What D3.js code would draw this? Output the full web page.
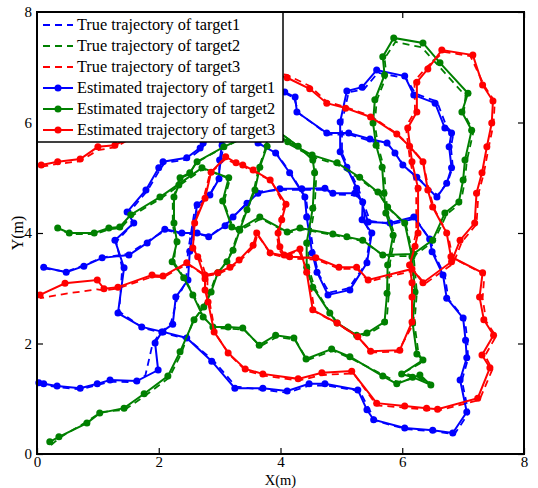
<!DOCTYPE html>
<html><head><meta charset="utf-8">
<script src="https://cdn.jsdelivr.net/npm/d3@7"></script>
<style>body{margin:0;background:#fff}svg{display:block}</style>
</head><body><svg id="c" width="538" height="488"></svg>
<script>
const xTicks=[0,2,4,6,8], yTicks=[0,2,4,6,8];
const legendLabels=["True trajectory of target1","True trajectory of target2","True trajectory of target3","Estimated trajectory of target1","Estimated trajectory of target2","Estimated trajectory of target3"];
const colors=["#0000ff","#008000","#ff0000"];

const est1=[[0.11,3.38],[0.48,3.29],[0.77,3.40],[1.07,3.55],[1.51,3.60],[1.81,3.82],[2.10,4.07],[2.38,4.00],[2.63,4.00],[2.82,3.93],[3.09,4.13],[3.22,4.29],[3.45,4.54],[3.63,4.72],[3.99,4.80],[4.35,4.80],[4.73,4.81],[4.86,4.72],[5.22,4.72],[5.35,4.56],[5.34,4.24],[5.50,4.00],[5.42,3.46],[5.14,2.97],[4.78,2.88],[4.60,3.29],[4.52,3.64],[4.43,4.29],[4.40,4.65],[4.15,5.09],[3.92,5.45],[3.63,5.63],[3.50,6.05],[3.83,6.50],[4.07,6.55],[4.24,6.46],[4.27,6.19],[4.76,5.81],[5.12,5.81],[5.47,5.70],[5.75,5.63],[5.88,5.45],[6.01,5.23],[6.24,5.01],[6.57,4.65],[6.73,4.90],[6.81,5.18],[6.77,5.56],[6.81,5.81],[6.70,5.90],[6.54,6.35],[6.19,6.50],[6.04,6.84],[5.58,6.95],[5.34,6.64],[5.09,6.57],[4.98,6.01],[4.98,5.47],[5.09,5.19],[5.25,4.81],[5.44,4.20],[5.80,4.18],[6.19,4.29],[6.45,3.89],[6.49,3.66],[6.67,3.24],[6.73,2.82],[7.00,2.46],[7.04,2.06],[7.06,1.74],[6.95,1.34],[7.06,0.76],[6.83,0.38],[6.50,0.43],[6.04,0.47],[5.53,0.62],[5.42,0.80],[5.27,1.16],[4.73,1.27],[4.47,1.27],[4.11,1.14],[3.71,1.19],[3.25,1.19],[2.87,1.68],[2.46,2.10],[2.07,2.21],[1.72,2.30],[1.33,2.55],[1.43,3.37],[1.28,3.87],[1.59,4.18],[1.48,4.38],[1.79,4.78],[2.00,5.18],[2.07,5.29],[2.46,5.36],[2.68,5.54],[2.73,5.63],[2.87,5.90],[3.04,5.59],[3.00,5.32],[2.99,4.98],[2.84,4.69],[2.63,4.51],[2.51,3.67],[2.48,3.15],[2.28,2.84],[2.23,2.35],[2.05,2.21],[1.94,2.01],[1.99,1.52],[1.64,1.32],[1.20,1.34],[0.99,1.27],[0.71,1.19],[0.33,1.23],[0.11,1.27],[0.03,1.29]];
const est2=[[0.21,0.22],[0.36,0.31],[0.82,0.56],[1.03,0.74],[1.43,0.83],[1.76,1.09],[2.15,1.41],[2.35,1.85],[2.58,2.43],[2.74,2.66],[2.86,2.93],[2.97,3.28],[3.12,3.48],[3.22,3.69],[3.33,4.05],[3.45,4.42],[3.58,4.78],[3.66,5.19],[3.78,5.57],[3.74,5.95],[4.12,5.65],[4.52,5.41],[4.93,5.27],[5.30,5.01],[5.60,4.74],[5.76,4.47],[6.04,4.18],[6.16,3.57],[6.21,2.93],[6.17,2.37],[6.24,1.81],[6.34,1.70],[5.99,1.45],[6.17,1.39],[6.47,1.25],[6.29,1.43],[5.91,1.27],[5.68,1.41],[5.14,1.76],[4.84,1.90],[4.42,1.72],[4.22,2.10],[3.92,2.15],[3.65,1.97],[3.38,2.28],[3.14,2.30],[2.89,2.30],[2.73,2.48],[2.56,2.88],[2.41,3.19],[2.22,3.48],[2.30,3.84],[2.25,4.18],[2.25,4.65],[2.33,4.87],[2.35,5.00],[2.51,5.09],[2.63,5.29],[3.07,5.56],[3.82,5.95],[4.29,5.57],[4.53,5.32],[4.56,5.09],[4.53,4.45],[4.43,3.82],[4.43,3.38],[4.53,3.02],[4.81,2.55],[4.93,2.37],[5.25,2.15],[5.42,2.19],[5.71,2.39],[5.75,2.91],[5.76,3.42],[5.85,3.96],[5.73,4.36],[5.70,4.72],[5.67,5.19],[5.57,5.59],[5.52,5.99],[5.55,6.41],[5.71,6.86],[5.68,7.19],[5.86,7.53],[6.34,7.44],[6.62,7.08],[7.08,6.53],[6.98,6.19],[7.14,5.86],[7.03,5.32],[7.00,4.96],[6.93,4.56],[6.70,4.36],[6.50,3.87],[6.18,3.62],[5.68,3.60],[5.35,3.87],[5.09,3.93],[4.86,3.98],[4.32,4.09],[4.11,4.02],[3.66,4.29],[3.32,4.07],[3.20,4.11],[3.05,4.58],[3.15,5.00],[2.71,5.18],[2.02,4.65],[1.54,4.33],[1.36,4.11],[1.18,4.09],[0.94,4.00],[0.53,4.00],[0.34,4.09]];
const est3=[[0.07,5.23],[0.34,5.29],[0.71,5.34],[1.00,5.56],[1.28,5.59],[2.68,6.41],[3.83,6.91],[4.11,6.81],[4.48,6.61],[4.76,6.35],[5.07,6.26],[5.48,6.10],[5.91,5.79],[6.12,5.57],[6.34,5.29],[6.42,4.78],[6.50,4.47],[6.73,4.00],[6.80,3.57],[7.32,3.28],[7.27,2.84],[7.34,2.43],[7.50,2.15],[7.31,1.79],[7.44,1.56],[7.24,1.01],[6.58,0.81],[6.40,0.83],[6.04,0.87],[5.58,0.92],[5.17,1.50],[4.68,1.47],[4.29,1.36],[3.71,1.45],[3.42,1.54],[3.14,1.83],[2.91,2.21],[2.81,2.75],[2.76,2.97],[2.76,3.17],[2.64,3.57],[2.56,3.73],[2.59,4.18],[2.76,4.63],[2.86,5.10],[3.10,5.38],[3.27,5.27],[3.38,5.23],[3.55,5.14],[3.83,4.96],[4.09,4.52],[4.02,4.24],[3.96,4.00],[3.99,3.75],[4.06,3.60],[4.32,3.71],[4.43,3.29],[4.53,2.61],[4.93,2.37],[5.27,2.12],[5.48,1.86],[5.96,1.88],[6.16,2.39],[6.16,2.84],[6.16,3.10],[6.12,3.42],[6.21,3.76],[6.26,4.00],[6.26,4.81],[6.16,5.29],[6.09,5.90],[6.24,6.19],[6.24,6.73],[6.42,6.97],[6.65,7.31],[7.16,7.22],[7.32,6.68],[7.49,6.39],[7.47,5.99],[7.39,5.56],[7.31,5.09],[7.22,4.72],[7.19,4.18],[6.95,3.87],[6.81,3.48],[6.34,3.10],[6.16,3.35],[5.44,3.15],[5.25,3.38],[4.96,3.38],[4.58,3.55],[4.15,3.57],[3.83,3.64],[3.61,4.00],[3.55,3.78],[3.32,3.51],[3.17,3.38],[2.97,3.28],[2.76,3.24],[2.46,3.46],[2.07,3.22],[1.89,3.24],[1.33,3.02],[1.10,2.99],[0.99,3.15],[0.46,3.09],[0.05,2.88]];

const true1=[[0.11,3.36],[0.48,3.30],[0.78,3.42],[1.08,3.56],[1.50,3.62],[1.83,3.86],[2.12,4.05],[2.40,3.98],[2.65,3.98],[2.84,3.95],[3.10,4.16],[3.24,4.32],[3.47,4.56],[3.65,4.75],[4.00,4.78],[4.36,4.78],[4.74,4.78],[4.88,4.70],[5.24,4.68],[5.37,4.52],[5.38,4.22],[5.48,3.97],[5.40,3.44],[5.12,3.00],[4.80,2.92],[4.62,3.27],[4.55,3.62],[4.46,4.27],[4.42,4.63],[4.18,5.06],[3.95,5.42],[3.66,5.62],[3.50,6.05],[3.83,6.50],[4.07,6.53],[4.22,6.45],[4.30,6.17],[4.78,5.78],[5.14,5.78],[5.49,5.66],[5.77,5.60],[5.90,5.42],[6.04,5.20],[6.27,4.98],[6.58,4.68],[6.75,4.93],[6.83,5.20],[6.80,5.55],[6.84,5.80],[6.73,5.92],[6.57,6.38],[6.22,6.52],[6.06,6.80],[5.60,6.90],[5.37,6.60],[5.12,6.55],[5.01,6.00],[5.01,5.45],[5.12,5.17],[5.28,4.80],[5.47,4.22],[5.82,4.16],[6.22,4.26],[6.47,3.86],[6.52,3.64],[6.70,3.22],[6.76,2.80],[7.03,2.44],[7.07,2.04],[7.08,1.72],[6.98,1.33],[7.09,0.74],[6.86,0.36],[6.52,0.41],[6.06,0.45],[5.56,0.60],[5.45,0.82],[5.30,1.14],[4.75,1.24],[4.48,1.24],[4.12,1.11],[3.72,1.16],[3.27,1.22],[2.89,1.70],[2.48,2.08],[2.08,2.19],[1.74,2.28],[1.35,2.58],[1.40,3.37],[1.30,3.84],[1.57,4.16],[1.50,4.36],[1.81,4.76],[2.02,5.15],[2.10,5.27],[2.48,5.33],[2.70,5.52],[2.75,5.60],[2.87,5.90],[3.06,5.56],[3.02,5.30],[2.97,4.96],[2.82,4.66],[2.60,4.48],[2.48,3.66],[2.45,3.13],[2.30,2.80],[2.20,2.37],[2.02,2.18],[1.90,2.00],[1.78,1.42],[1.62,1.30],[1.21,1.31],[1.00,1.25],[0.72,1.17],[0.34,1.21],[0.12,1.25],[0.03,1.27]];
const true2=[[0.23,0.16],[0.38,0.30],[0.84,0.60],[1.05,0.76],[1.44,0.80],[1.77,1.05],[2.17,1.38],[2.37,1.82],[2.56,2.40],[2.72,2.64],[2.84,2.92],[2.95,3.26],[3.10,3.46],[3.20,3.67],[3.31,4.03],[3.43,4.40],[3.56,4.76],[3.64,5.17],[3.76,5.55],[3.74,5.95],[4.12,5.62],[4.52,5.38],[4.93,5.24],[5.30,4.98],[5.62,4.71],[5.78,4.44],[6.06,4.15],[6.19,3.55],[6.24,2.92],[6.20,2.36],[6.27,1.80],[6.36,1.68],[6.02,1.47],[6.19,1.41],[6.49,1.27],[6.30,1.40],[5.92,1.30],[5.69,1.43],[5.16,1.73],[4.86,1.87],[4.44,1.70],[4.24,2.07],[3.94,2.12],[3.67,1.95],[3.40,2.25],[3.16,2.27],[2.91,2.28],[2.75,2.46],[2.58,2.86],[2.43,3.17],[2.25,3.47],[2.28,3.82],[2.23,4.16],[2.23,4.62],[2.31,4.85],[2.33,4.98],[2.50,5.06],[2.61,5.27],[3.05,5.54],[3.82,5.95],[4.29,5.57],[4.55,5.31],[4.59,5.08],[4.56,4.44],[4.46,3.81],[4.46,3.38],[4.56,3.01],[4.83,2.53],[4.95,2.35],[5.27,2.13],[5.44,2.17],[5.74,2.37],[5.78,2.90],[5.79,3.41],[5.88,3.95],[5.76,4.35],[5.73,4.71],[5.70,5.18],[5.60,5.58],[5.55,5.98],[5.58,6.40],[5.74,6.84],[5.71,7.16],[5.89,7.46],[6.32,7.36],[6.60,7.02],[7.04,6.48],[7.01,6.17],[7.17,5.84],[7.06,5.30],[7.03,4.95],[6.96,4.54],[6.73,4.34],[6.52,3.85],[6.18,3.58],[5.70,3.58],[5.37,3.85],[5.11,3.91],[4.88,3.96],[4.34,4.07],[4.12,4.00],[3.68,4.26],[3.34,4.05],[3.22,4.09],[3.07,4.56],[3.17,4.98],[2.73,5.16],[2.04,4.63],[1.56,4.31],[1.38,4.09],[1.20,4.07],[0.96,3.98],[0.55,3.98],[0.36,4.07]];
const true3=[[0.07,5.20],[0.34,5.25],[0.71,5.30],[1.00,5.50],[1.28,5.55],[2.68,6.41],[3.83,6.91],[4.11,6.86],[4.48,6.66],[4.76,6.38],[5.07,6.28],[5.48,6.12],[5.91,5.80],[6.12,5.58],[6.34,5.30],[6.44,4.76],[6.52,4.45],[6.75,3.97],[6.83,3.55],[7.35,3.25],[7.32,2.82],[7.38,2.40],[7.54,2.13],[7.36,1.78],[7.48,1.53],[7.27,0.98],[6.58,0.78],[6.40,0.80],[6.04,0.84],[5.58,0.88],[5.20,1.46],[4.68,1.43],[4.30,1.33],[3.72,1.42],[3.43,1.51],[3.16,1.80],[2.93,2.18],[2.84,2.72],[2.80,2.95],[2.80,3.15],[2.68,3.55],[2.58,3.70],[2.56,4.16],[2.73,4.60],[2.84,5.08],[3.10,5.34],[3.28,5.24],[3.40,5.20],[3.57,5.11],[3.85,4.94],[4.06,4.50],[3.99,4.22],[3.94,3.98],[3.97,3.73],[4.04,3.58],[4.30,3.68],[4.46,3.28],[4.56,2.58],[4.95,2.35],[5.29,2.10],[5.50,1.84],[5.93,1.85],[6.19,2.37],[6.19,2.83],[6.19,3.10],[6.15,3.42],[6.18,3.78],[6.23,4.02],[6.23,4.82],[6.13,5.30],[6.06,5.92],[6.21,6.20],[6.20,6.75],[6.40,7.00],[6.68,7.28],[7.12,7.20],[7.35,6.66],[7.52,6.38],[7.50,5.98],[7.42,5.55],[7.34,5.08],[7.25,4.70],[7.22,4.16],[6.98,3.84],[6.84,3.45],[6.37,3.08],[6.19,3.32],[5.45,3.12],[5.26,3.35],[4.97,3.35],[4.59,3.52],[4.15,3.54],[3.84,3.62],[3.62,3.97],[3.57,3.76],[3.33,3.49],[3.18,3.36],[2.98,3.26],[2.77,3.22],[2.47,3.44],[2.08,3.20],[1.90,3.21],[1.34,3.00],[1.10,2.96],[0.99,2.98],[0.46,2.90],[0.05,2.82]];

const svg=d3.select("#c");
const L=37,R=524,T=12,B=454;
const x=d3.scaleLinear().domain([0,8]).range([L,R]);
const y=d3.scaleLinear().domain([0,8]).range([B,T]);
const line=d3.line().x(d=>x(d[0])).y(d=>y(d[1]));
const serif="'Liberation Serif','Times New Roman',serif";

const trues=[true1,true2,true3], ests=[est1,est2,est3];
const g=svg.append("g");
trues.forEach((s,i)=>{
  g.append("path").attr("d",line(s)).attr("fill","none").attr("stroke",colors[i])
   .attr("stroke-width",1.8).attr("stroke-dasharray","7,5");
});
ests.forEach((s,i)=>{
  g.append("path").attr("d",line(s)).attr("fill","none").attr("stroke",colors[i]).attr("stroke-width",2);
  g.selectAll(null).data(s).enter().append("circle")
   .attr("cx",d=>x(d[0])).attr("cy",d=>y(d[1])).attr("r",3.5).attr("fill",colors[i]);
});

// axes
const ax=d3.axisBottom(x).tickValues(xTicks).tickSizeInner(-6).tickSizeOuter(0).tickPadding(2);
svg.append("g").attr("transform",`translate(0,${B})`).call(ax);
const ay=d3.axisLeft(y).tickValues(yTicks).tickSizeInner(-6).tickSizeOuter(0).tickPadding(5);
svg.append("g").attr("transform",`translate(${L},0)`).call(ay);
const axTop=d3.axisTop(x).tickValues(xTicks).tickSizeInner(-6).tickSizeOuter(0).tickFormat("");
svg.append("g").attr("transform",`translate(0,${T})`).call(axTop);
const ayR=d3.axisRight(y).tickValues(yTicks).tickSizeInner(-6).tickSizeOuter(0).tickFormat("");
svg.append("g").attr("transform",`translate(${R},0)`).call(ayR);
svg.selectAll(".domain").remove();
svg.selectAll(".tick line").attr("stroke","#000").attr("stroke-width",1.2);
svg.selectAll(".tick text").attr("font-family",serif).attr("font-size",15).attr("fill","#000");

// legend
const lg=svg.append("g");
lg.append("rect").attr("x",L).attr("y",T).attr("width",283-L).attr("height",142-T)
  .attr("fill","#fff").attr("stroke","#000").attr("stroke-width",1.5);
const rowY=[25,46,67,88,109,130];
legendLabels.forEach((t,i)=>{
  const c=colors[i%3], yy=rowY[i];
  const ln=lg.append("line").attr("x1",43).attr("x2",73).attr("y1",yy).attr("y2",yy)
    .attr("stroke",c).attr("stroke-width",i<3?1.8:2);
  if(i<3) ln.attr("stroke-dasharray","7,5");
  else lg.append("circle").attr("cx",58).attr("cy",yy).attr("r",3.5).attr("fill",c);
  lg.append("text").attr("x",77).attr("y",yy+5).text(t)
    .attr("font-family",serif).attr("font-size",16.3).attr("fill","#000");
});

// frame
svg.append("rect").attr("x",L).attr("y",T).attr("width",R-L).attr("height",B-T)
  .attr("fill","none").attr("stroke","#000").attr("stroke-width",2);

svg.append("text").attr("x",(L+R)/2).attr("y",484.5).attr("text-anchor","middle")
  .attr("font-family",serif).attr("font-size",14.5).text("X(m)");
svg.append("text").attr("transform","translate(23,233) rotate(-90)").attr("text-anchor","middle")
  .attr("font-family",serif).attr("font-size",16).text("Y(m)");
</script></body></html>
